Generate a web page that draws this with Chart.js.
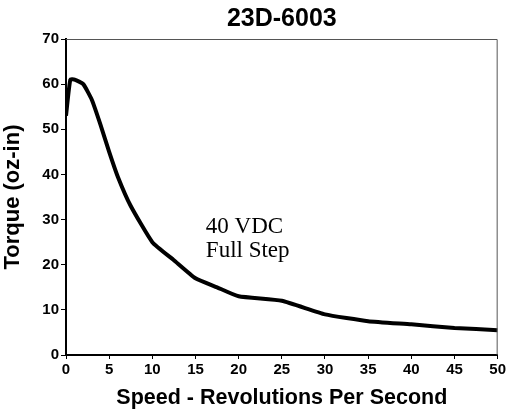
<!DOCTYPE html>
<html>
<head>
<meta charset="utf-8">
<script src="https://cdn.jsdelivr.net/npm/chart.js@4/dist/chart.umd.min.js"></script>
<style>
html,body{margin:0;padding:0;background:#fff;}
#wrap{width:508px;height:415px;}
</style>
</head>
<body>
<div id="wrap"><canvas id="c" width="508" height="415"></canvas></div>
<script>
const speed = [0, 0.5, 1, 2, 3, 4, 5, 6, 7.5, 10, 12.5, 15, 17.5, 20, 25, 30, 35, 40, 45, 50];
const torque = [53, 61, 61, 60, 56.5, 51, 45, 39.5, 33, 25, 21, 17, 15, 13, 12, 9, 7.5, 6.8, 6, 5.5];
const xTicks = [0, 5, 10, 15, 20, 25, 30, 35, 40, 45, 50];
const yTicks = [0, 10, 20, 30, 40, 50, 60, 70];
const annotationLines = ["40 VDC", "Full Step"];

const boxPlugin = {
  id: 'box',
  afterDraw(chart) {
    const {ctx, chartArea: a, scales} = chart;
    ctx.save();
    ctx.strokeStyle = '#555';
    ctx.lineWidth = 1;
    ctx.beginPath();
    ctx.moveTo(a.left, a.top + 0.5);
    ctx.lineTo(a.right - 0.5, a.top + 0.5);
    ctx.lineTo(a.right - 0.5, a.bottom);
    ctx.stroke();
    ctx.fillStyle = '#000';
    ctx.font = '23px "Liberation Serif", "Times New Roman", serif';
    ctx.textAlign = 'left';
    ctx.textBaseline = 'alphabetic';
    const x = scales.x.getPixelForValue(16.2);
    ctx.fillText(annotationLines[0], x, scales.y.getPixelForValue(27.1));
    ctx.fillText(annotationLines[1], x, scales.y.getPixelForValue(21.8));
    ctx.restore();
  }
};

const F = '"Liberation Sans", Arial, sans-serif';

new Chart(document.getElementById('c'), {
  type: 'line',
  data: {
    datasets: [{
      data: speed.map((s, i) => ({x: s, y: torque[i]})),
      borderColor: '#000',
      borderWidth: 4,
      pointRadius: 0,
      tension: 0.15,
      fill: false
    }]
  },
  options: {
    responsive: false,
    animation: false,
    devicePixelRatio: 1,
    layout: {padding: {left: 0, right: 1, top: 0, bottom: 0}},
    plugins: {
      legend: {display: false},
      tooltip: {enabled: false},
      title: {
        display: true,
        fullSize: false,
        text: '23D-6003',
        color: '#000',
        font: {family: F, size: 25, weight: 'bold', lineHeight: 1.2},
        padding: {top: 4, bottom: 5},
        align: 'center'
      }
    },
    scales: {
      x: {
        type: 'linear',
        min: 0, max: 50,
        afterFit(s) { s.height = 60; },
        afterBuildTicks(s) { s.ticks = xTicks.map(v => ({value: v})); },
        ticks: {color: '#000', font: {family: F, size: 15, weight: 'bold'}, padding: 2, maxRotation: 0},
        grid: {display: true, drawOnChartArea: false, drawTicks: true, tickLength: 4, color: '#000', lineWidth: 1},
        border: {display: true, color: '#000', width: 2},
        title: {
          display: true,
          text: 'Speed - Revolutions Per Second',
          color: '#000',
          font: {family: F, size: 21.5, weight: 'bold', lineHeight: 1.2},
          padding: {top: 0, bottom: 4}
        }
      },
      y: {
        type: 'linear',
        min: 0, max: 70,
        afterFit(s) { s.width = 66; },
        afterBuildTicks(s) { s.ticks = yTicks.map(v => ({value: v})); },
        ticks: {color: '#000', font: {family: F, size: 15, weight: 'bold'}, padding: 2},
        grid: {display: true, drawOnChartArea: false, drawTicks: true, tickLength: 5, color: '#000', lineWidth: 1},
        border: {display: true, color: '#000', width: 2},
        title: {
          display: true,
          text: 'Torque (oz-in)',
          color: '#000',
          font: {family: F, size: 22, weight: 'bold', lineHeight: 1.2},
          padding: {top: 0, bottom: 3}
        }
      }
    }
  },
  plugins: [boxPlugin]
});
</script>
</body>
</html>
